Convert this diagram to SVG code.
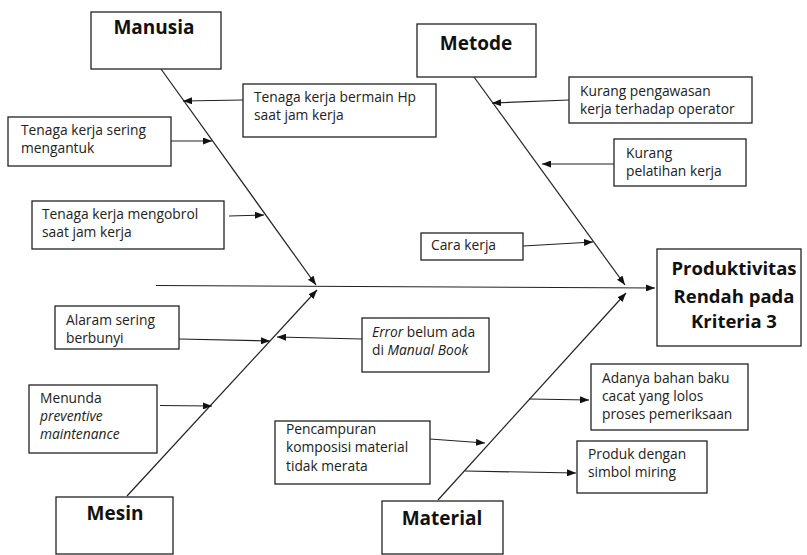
<svg xmlns="http://www.w3.org/2000/svg" width="807" height="555" viewBox="0 0 807 555">
<style>
.box{fill:#fff;stroke:#222;stroke-width:1.3}
.t{font-family:"Open Sans","Noto Sans",sans-serif;font-size:13.8px;fill:#222}
.h{font-family:"Open Sans","Noto Sans",sans-serif;font-size:19px;font-weight:bold;fill:#111;text-anchor:middle}
.p{font-size:18.5px}
.ln{stroke:#222;stroke-width:1.2;fill:none}
.i{font-style:italic}
</style>
<defs>
<marker id="ah" markerUnits="userSpaceOnUse" markerWidth="9" markerHeight="7" refX="9" refY="3.5" orient="auto">
<path d="M0,0 L9,3.5 L0,7 z" fill="#111"/>
</marker>
</defs>
<rect width="807" height="555" fill="#fff"/>
<g id="connectors">
<line class="ln" x1="156" y1="285.5" x2="655" y2="288" marker-end="url(#ah)"/>
<line class="ln" x1="161" y1="69" x2="316" y2="285" marker-end="url(#ah)"/>
<line class="ln" x1="474" y1="77" x2="625" y2="285" marker-end="url(#ah)"/>
<line class="ln" x1="127" y1="496" x2="317" y2="290" marker-end="url(#ah)"/>
<line class="ln" x1="438" y1="500" x2="626" y2="293" marker-end="url(#ah)"/>
<line class="ln" x1="243" y1="100" x2="183" y2="101" marker-end="url(#ah)"/>
<line class="ln" x1="171" y1="141" x2="212" y2="141" marker-end="url(#ah)"/>
<line class="ln" x1="229" y1="216" x2="264" y2="215" marker-end="url(#ah)"/>
<line class="ln" x1="569" y1="100" x2="492" y2="103" marker-end="url(#ah)"/>
<line class="ln" x1="614" y1="164" x2="542" y2="164" marker-end="url(#ah)"/>
<line class="ln" x1="523" y1="246" x2="593" y2="242" marker-end="url(#ah)"/>
<line class="ln" x1="179" y1="339" x2="270" y2="341" marker-end="url(#ah)"/>
<line class="ln" x1="362" y1="339" x2="277" y2="337" marker-end="url(#ah)"/>
<line class="ln" x1="160" y1="405.5" x2="212" y2="406" marker-end="url(#ah)"/>
<line class="ln" x1="529" y1="399" x2="589" y2="400" marker-end="url(#ah)"/>
<line class="ln" x1="430" y1="439" x2="485" y2="443" marker-end="url(#ah)"/>
<line class="ln" x1="465" y1="471" x2="576" y2="473" marker-end="url(#ah)"/>
</g>
<g id="manusia"><rect class="box" x="91" y="12" width="130" height="57"/><text class="h" x="154" y="34">Manusia</text></g>
<g id="metode"><rect class="box" x="417" y="24" width="119" height="53"/><text class="h" x="476" y="50">Metode</text></g>
<g id="mesin"><rect class="box" x="56" y="497" width="117" height="57"/><text class="h" x="115" y="520">Mesin</text></g>
<g id="material"><rect class="box" x="382" y="501" width="121" height="53"/><text class="h" x="442" y="525">Material</text></g>
<g id="produktivitas"><rect class="box" x="657" y="249" width="144" height="97"/>
<text class="h p" x="734" y="275">Produktivitas</text>
<text class="h p" x="734" y="303">Rendah pada</text>
<text class="h p" x="734" y="328">Kriteria 3</text></g>
<g id="c-hp"><rect class="box" x="243" y="84" width="193" height="53"/>
<text class="t" x="254" y="102">Tenaga kerja bermain Hp</text><text class="t" x="254" y="120">saat jam kerja</text></g>
<g id="c-mengantuk"><rect class="box" x="8" y="117" width="163" height="49"/>
<text class="t" x="21" y="135">Tenaga kerja sering</text><text class="t" x="21" y="153">mengantuk</text></g>
<g id="c-mengobrol"><rect class="box" x="32" y="201" width="192" height="48"/>
<text class="t" x="42" y="219">Tenaga kerja mengobrol</text><text class="t" x="42" y="237">saat jam kerja</text></g>
<g id="c-pengawasan"><rect class="box" x="569" y="77" width="183" height="46"/>
<text class="t" x="580" y="96">Kurang pengawasan</text><text class="t" x="580" y="114">kerja terhadap operator</text></g>
<g id="c-pelatihan"><rect class="box" x="614" y="139" width="132" height="47"/>
<text class="t" x="626" y="158">Kurang</text><text class="t" x="626" y="176">pelatihan kerja</text></g>
<g id="c-cara"><rect class="box" x="421" y="233" width="102" height="27"/>
<text class="t" x="431" y="250">Cara kerja</text></g>
<g id="c-alaram"><rect class="box" x="55" y="306" width="124" height="43"/>
<text class="t" x="66" y="325">Alaram sering</text><text class="t" x="66" y="343">berbunyi</text></g>
<g id="c-error"><rect class="box" x="362" y="318" width="127" height="54"/>
<text class="t" x="372" y="337"><tspan class="i">Error</tspan> belum ada</text><text class="t" x="372" y="355">di <tspan class="i">Manual Book</tspan></text></g>
<g id="c-menunda"><rect class="box" x="29" y="385" width="128" height="68"/>
<text class="t" x="40" y="403">Menunda</text><text class="t i" x="40" y="421">preventive</text><text class="t i" x="40" y="439">maintenance</text></g>
<g id="c-adanya"><rect class="box" x="591" y="364" width="157" height="66"/>
<text class="t" x="602" y="383">Adanya bahan baku</text><text class="t" x="602" y="401">cacat yang lolos</text><text class="t" x="602" y="419">proses pemeriksaan</text></g>
<g id="c-pencampuran"><rect class="box" x="275" y="421" width="155" height="63"/>
<text class="t" x="286" y="434">Pencampuran</text><text class="t" x="286" y="452">komposisi material</text><text class="t" x="286" y="471">tidak merata</text></g>
<g id="c-produk"><rect class="box" x="577" y="441" width="130" height="52"/>
<text class="t" x="588" y="459">Produk dengan</text><text class="t" x="588" y="477">simbol miring</text></g>
</svg>
